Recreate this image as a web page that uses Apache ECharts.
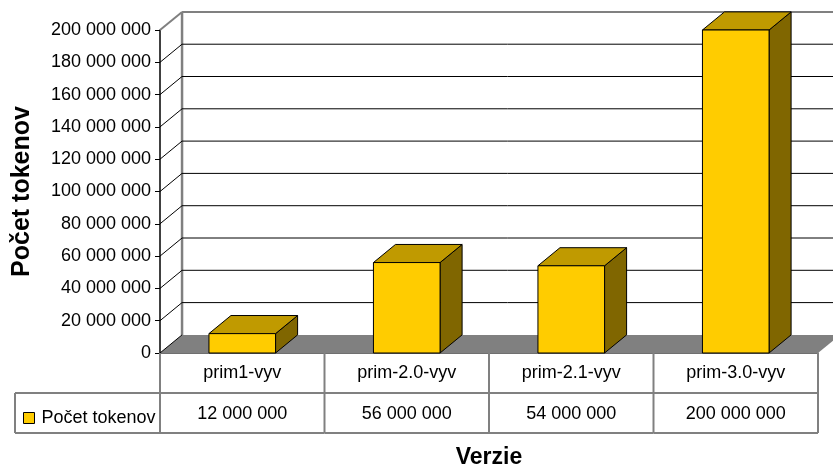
<!DOCTYPE html>
<html>
<head>
<meta charset="utf-8">
<script src="https://cdn.jsdelivr.net/npm/echarts@6/dist/echarts.min.js"></script>
<style>
  html, body { margin: 0; padding: 0; background: #fff; }
  #chart { width: 833px; height: 469px; }
</style>
</head>
<body>
<div id="chart"></div>
<script>
// Token counts per corpus version
const categories = ['prim1-vyv', 'prim-2.0-vyv', 'prim-2.1-vyv', 'prim-3.0-vyv'];
const tokenCounts = [12000000, 56000000, 54000000, 200000000];
const seriesName = 'Počet tokenov';
const axisTicks = [0, 20000000, 40000000, 60000000, 80000000, 100000000,
                   120000000, 140000000, 160000000, 180000000, 200000000];

const FONT = "'Liberation Sans', Arial, sans-serif";
// depth of the pseudo-3D box, as a fraction of one category band
const DEPTH_X = 0.134;
const DEPTH_Y = 0.11;
const BAR_RATIO = 0.405;
const ROW_H = 40;
const TABLE_LEFT = 15;
const LINE_GRAY = '#808080';

function fmt(n) {
  return String(n).replace(/\B(?=(\d{3})+(?!\d))/g, ' ');
}

// back wall gridlines, left wall diagonals and the floor
function renderWalls(params, api) {
  const cs = params.coordSys;
  const v = api.value(1);
  const y = api.coord([0, v])[1];
  const band = api.size([1, 0])[0];
  const dx = band * DEPTH_X, dy = band * DEPTH_Y;
  const left = cs.x, right = cs.x + cs.width;
  const isTop = v === axisTicks[axisTicks.length - 1];
  const col = isTop ? LINE_GRAY : '#000';
  const lw = isTop ? 2 : 1;
  const children = [];
  if (v === 0) {
    const yTop = api.coord([0, axisTicks[axisTicks.length - 1]])[1];
    children.push({
      type: 'polygon',
      shape: { points: [[left, y], [right, y], [right + dx, y - dy], [left + dx, y - dy]] },
      style: { fill: '#808080', stroke: null }
    });
    children.push({
      type: 'line',
      shape: { x1: left + dx, y1: yTop - dy, x2: left + dx, y2: y - dy },
      style: { stroke: LINE_GRAY, lineWidth: 2.5 }
    });
  } else {
    children.push({
      type: 'line',
      shape: { x1: left + dx, y1: y - dy, x2: api.getWidth(), y2: y - dy },
      style: { stroke: col, lineWidth: lw }
    });
  }
  children.push({
    type: 'line',
    shape: { x1: left, y1: y, x2: left + dx, y2: y - dy },
    style: { stroke: col, lineWidth: lw }
  });
  return { type: 'group', children };
}

// one 3D box per category
function renderBar(params, api) {
  const i = api.value(0), v = api.value(1);
  const top = api.coord([i, v]);
  const base = api.coord([i, 0]);
  const band = api.size([1, 0])[0];
  const w = band * BAR_RATIO;
  const dx = band * DEPTH_X, dy = band * DEPTH_Y;
  const x0 = top[0] - w / 2, x1 = x0 + w;
  const yt = top[1], yb = base[1];
  const edge = { stroke: '#000', lineWidth: 1 };
  return {
    type: 'group',
    children: [
      { type: 'polygon', shape: { points: [[x1, yt], [x1 + dx, yt - dy], [x1 + dx, yb - dy], [x1, yb]] },
        style: Object.assign({ fill: '#806600' }, edge) },
      { type: 'polygon', shape: { points: [[x0, yt], [x1, yt], [x1 + dx, yt - dy], [x0 + dx, yt - dy]] },
        style: Object.assign({ fill: '#C09A00' }, edge) },
      { type: 'rect', shape: { x: x0, y: yt, width: w, height: yb - yt },
        style: Object.assign({ fill: '#FFCC00' }, edge) }
    ]
  };
}

// data table under the plot: cell borders and value row
function renderTable(params, api) {
  const i = api.value(0), v = api.value(1);
  const c = api.coord([i, 0]);
  const band = api.size([1, 0])[0];
  const xL = c[0] - band / 2, xR = c[0] + band / 2;
  const y0 = c[1];
  const line = { stroke: LINE_GRAY, lineWidth: 2 };
  const children = [
    { type: 'line', shape: { x1: xR, y1: y0, x2: xR, y2: y0 + 2 * ROW_H }, style: line },
    { type: 'line', shape: { x1: xL, y1: y0 + ROW_H, x2: xR, y2: y0 + ROW_H }, style: line },
    { type: 'line', shape: { x1: xL, y1: y0 + 2 * ROW_H, x2: xR, y2: y0 + 2 * ROW_H }, style: line },
    { type: 'text', style: { x: c[0], y: y0 + ROW_H * 1.5 + 1, text: fmt(v), fill: '#000',
        font: '18px ' + FONT, textAlign: 'center', textVerticalAlign: 'middle' } }
  ];
  if (i === 0) {
    children.push(
      { type: 'line', shape: { x1: xL, y1: y0, x2: xL, y2: y0 + 2 * ROW_H }, style: line },
      { type: 'line', shape: { x1: TABLE_LEFT, y1: y0 + ROW_H, x2: xL, y2: y0 + ROW_H }, style: line },
      { type: 'line', shape: { x1: TABLE_LEFT, y1: y0 + 2 * ROW_H, x2: xL, y2: y0 + 2 * ROW_H }, style: line },
      { type: 'line', shape: { x1: TABLE_LEFT, y1: y0 + ROW_H, x2: TABLE_LEFT, y2: y0 + 2 * ROW_H }, style: line }
    );
  }
  return { type: 'group', children };
}

const chart = echarts.init(document.getElementById('chart'), null, { renderer: 'canvas' });
chart.setOption({
  animation: false,
  backgroundColor: '#fff',
  textStyle: { fontFamily: FONT },
  grid: { left: 160, right: 15, top: 30, bottom: 116, containLabel: false, outerBoundsMode: 'none' },
  legend: {
    data: [seriesName],
    left: 18, top: 404,
    icon: 'rect', itemWidth: 11, itemHeight: 11, itemGap: 0,
    itemStyle: { color: '#FFCC00', borderColor: '#000', borderWidth: 1 },
    textStyle: { fontSize: 18, color: '#000', fontFamily: FONT, padding: [0, 0, 0, 2] },
    selectedMode: false
  },
  xAxis: {
    type: 'category',
    data: categories,
    boundaryGap: true,
    axisLine: { show: true, lineStyle: { color: '#404040', width: 1.5 } },
    axisTick: { show: false },
    axisLabel: { fontSize: 18, color: '#000', margin: 11, fontFamily: FONT },
    splitLine: { show: false },
    name: 'Verzie',
    nameLocation: 'middle',
    nameGap: 93,
    nameTextStyle: { fontSize: 23, fontWeight: 'bold', color: '#000', fontFamily: FONT }
  },
  yAxis: {
    type: 'value',
    min: 0, max: 200000000, interval: 20000000,
    axisLine: { show: true, lineStyle: { color: '#000', width: 1.5 } },
    axisTick: { show: true, length: 5, lineStyle: { color: '#000' } },
    axisLabel: { fontSize: 18, color: '#000', margin: 9, fontFamily: FONT, formatter: fmt },
    splitLine: { show: false },
    name: 'Počet tokenov',
    nameLocation: 'middle',
    nameRotate: 90,
    nameGap: 125,
    nameTextStyle: { fontSize: 25, fontWeight: 'bold', color: '#000', fontFamily: FONT }
  },
  series: [
    {
      name: 'walls',
      type: 'custom',
      renderItem: renderWalls,
      data: axisTicks.map(v => [0, v]),
      encode: { x: 0, y: 1 },
      silent: true,
      clip: false,
      z: 1
    },
    {
      name: seriesName,
      type: 'custom',
      renderItem: renderBar,
      data: tokenCounts.map((v, i) => [i, v]),
      encode: { x: 0, y: 1 },
      itemStyle: { color: '#FFCC00', borderColor: '#000', borderWidth: 1 },
      clip: false,
      z: 3
    },
    {
      name: 'table',
      type: 'custom',
      renderItem: renderTable,
      data: tokenCounts.map((v, i) => [i, v]),
      encode: { x: 0, y: 1 },
      silent: true,
      clip: false,
      z: 2
    }
  ]
});
</script>
</body>
</html>
